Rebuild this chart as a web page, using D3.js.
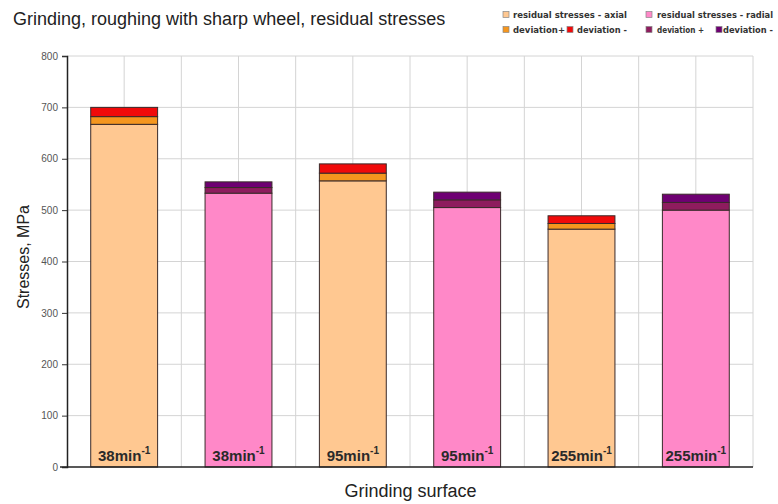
<!DOCTYPE html>
<html><head><meta charset="utf-8">
<script src="https://cdn.jsdelivr.net/npm/d3@7"></script>
<style>body{margin:0;background:#fff}svg{display:block;font-family:Arial,"Liberation Sans",sans-serif}</style>
</head><body><svg id="c" width="778" height="504"></svg>
<script>
const categories = ["38 axial","38 radial","95 axial","95 radial","255 axial","255 radial"];
const speedLabels = ["38","38","95","95","255","255"];
const kinds = ["axial","radial","axial","radial","axial","radial"];
const baseValues = [667, 533, 557, 505, 463, 500];
const devPlus = [15, 11, 15, 15, 11, 15];
const devMinus = [18, 11, 18, 15, 15, 16];
const yTicks = [0,100,200,300,400,500,600,700,800];
const legendLabels = ["residual stresses - axial","residual stresses - radial","deviation+","deviation -","deviation +","deviation -"];
const colors = {
  axial: ["#FFC891", "#F5961E", "#F00A0A"],
  radial: ["#FF88C8", "#8E1C5E", "#6E0072"]
};
const legendColors = [colors.axial[0], colors.radial[0], colors.axial[1], colors.axial[2], colors.radial[1], colors.radial[2]];
// legend layout: [markerX, textX, textLength, row]
const legendLayout = [[503,513,114,0],[646,657,116,0],[503,513,52,1],[567,577,50,1],[646,657,47,1],[716,723,50,1]];

const svg = d3.select("#c");
const L = 67, R = 753, T = 56, B = 467;
const y = d3.scaleLinear().domain([0,800]).range([B,T]);
const x = d3.scaleBand().domain(categories).range([L,R]).paddingInner(0.415).paddingOuter(0.2075);
const grid = d3.scaleLinear().domain([0,12]).range([L,R]);

// gridlines
svg.append("g").selectAll("line").data(yTicks.slice(1)).join("line")
  .attr("x1",L).attr("x2",R).attr("y1",d=>y(d)).attr("y2",d=>y(d))
  .attr("stroke","#d4d4d4").attr("stroke-width",1);
svg.append("g").selectAll("line").data(d3.range(1,13)).join("line")
  .attr("x1",d=>grid(d)).attr("x2",d=>grid(d)).attr("y1",T).attr("y2",B)
  .attr("stroke","#d4d4d4").attr("stroke-width",1);

// bars
const stacks = categories.map((c,i)=>{
  const b = baseValues[i], p = b+devPlus[i], m = p+devMinus[i];
  const col = colors[kinds[i]];
  return [{c, y0:0, y1:b, fill:col[0]},{c, y0:b, y1:p, fill:col[1]},{c, y0:p, y1:m, fill:col[2]}];
}).flat();
svg.append("g").selectAll("rect").data(stacks).join("rect")
  .attr("x",d=>x(d.c)).attr("width",x.bandwidth())
  .attr("y",d=>y(d.y1)).attr("height",d=>y(d.y0)-y(d.y1))
  .attr("fill",d=>d.fill).attr("stroke","#3a2a2a").attr("stroke-width",1);

// bar labels
const lbl = svg.append("g").selectAll("text").data(categories).join("text")
  .attr("x",d=>x(d)+x.bandwidth()/2).attr("y",B-6)
  .attr("text-anchor","middle").attr("font-size",15).attr("font-weight","bold").attr("fill","#2a2a2a");
lbl.append("tspan").text((d,i)=>speedLabels[i]+"min");
lbl.append("tspan").attr("dy",-7).attr("font-size",10).text("-1");

// axes
const yAxis = d3.axisLeft(y).tickValues(yTicks).tickSize(5).tickPadding(4);
const ga = svg.append("g").attr("transform",`translate(${L},0)`).call(yAxis);
ga.select(".domain").attr("stroke","#222").attr("stroke-width",1.5);
ga.selectAll(".tick line").attr("stroke","#333");
ga.selectAll(".tick text").attr("font-size",10).attr("fill","#555").attr("font-family","Arial,'Liberation Sans',sans-serif");
svg.append("line").attr("x1",60).attr("x2",R).attr("y1",B).attr("y2",B).attr("stroke","#222").attr("stroke-width",1.5);

// titles
svg.append("text").attr("x",13).attr("y",25).attr("font-size",18).attr("fill","#222")
  .text("Grinding, roughing with sharp wheel, residual stresses");
svg.append("text").attr("transform","translate(29,257) rotate(-90)").attr("text-anchor","middle")
  .attr("font-size",16).attr("fill","#222").text("Stresses, MPa");
svg.append("text").attr("x",410.5).attr("y",497).attr("text-anchor","middle")
  .attr("font-size",18).attr("fill","#222").text("Grinding surface");

// legend
const lg = svg.append("g").selectAll("g").data(legendLabels).join("g")
  .attr("transform",(d,i)=>`translate(0,${legendLayout[i][3]===0?14.5:29.5})`);
lg.append("rect").attr("x",(d,i)=>legendLayout[i][0]).attr("y",-3).attr("width",6).attr("height",6)
  .attr("fill",(d,i)=>legendColors[i]).attr("stroke","#888").attr("stroke-width",0.7);
lg.append("text").attr("x",(d,i)=>legendLayout[i][1]).attr("y",3.5)
  .attr("font-size",8.5).attr("font-weight","bold").attr("font-family","Verdana,'DejaVu Sans',sans-serif")
  .attr("textLength",(d,i)=>legendLayout[i][2]).attr("lengthAdjust","spacingAndGlyphs")
  .attr("fill","#333").text(d=>d);
</script></body></html>
